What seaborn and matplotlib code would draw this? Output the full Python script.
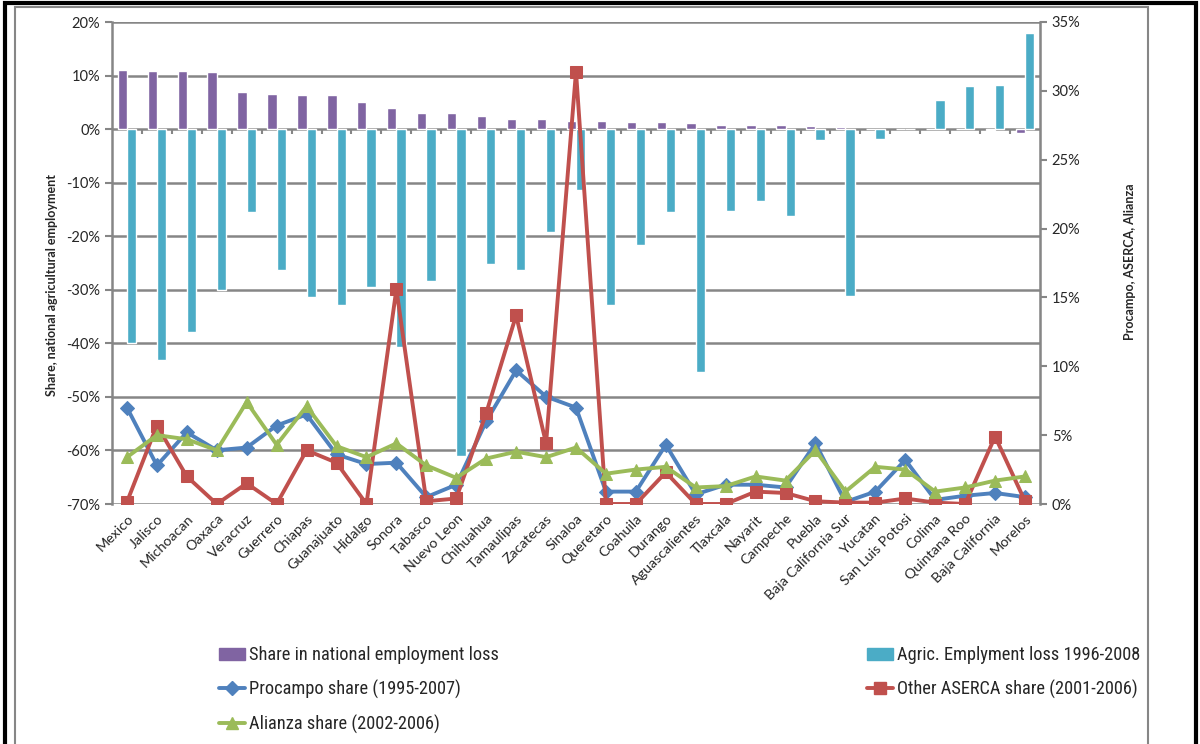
import numpy as np
import pandas as pd
import matplotlib
matplotlib.use("Agg")
import matplotlib.pyplot as plt
from matplotlib import font_manager
from matplotlib.patches import Rectangle, Patch
from matplotlib.lines import Line2D
import seaborn as sns

states = ["Mexico", "Jalisco", "Michoacan", "Oaxaca", "Veracruz", "Guerrero",
          "Chiapas", "Guanajuato", "Hidalgo", "Sonora", "Tabasco", "Nuevo Leon",
          "Chihuahua", "Tamaulipas", "Zacatecas", "Sinaloa", "Queretaro",
          "Coahuila", "Durango", "Aguascalientes", "Tlaxcala", "Nayarit",
          "Campeche", "Puebla", "Baja California Sur", "Yucatan",
          "San Luis Potosi", "Colima", "Quintana Roo", "Baja California", "Morelos"]

# left axis (%)
national_share = [11.1, 10.9, 10.9, 10.6, 7.0, 6.6, 6.3, 6.3, 5.0, 4.0, 3.1, 3.1,
                  2.5, 1.8, 1.8, 1.6, 1.6, 1.4, 1.25, 1.2, 0.7, 0.7, 0.7, 0.6,
                  0.4, 0.0, 0.0, 0.0, 0.0, -0.2, -0.7]
agric_loss = [-40.0, -43.2, -37.8, -30.0, -15.4, -26.4, -31.4, -32.9, -29.4,
              -40.6, -28.3, -61.0, -25.2, -26.4, -19.3, -11.3, -32.9, -21.6,
              -15.4, -45.4, -15.2, -13.5, -16.3, -2.0, -31.2, -1.9, 0.0, 5.5,
              8.1, 8.3, 18.0]

# right axis (%)
procampo = [7.0, 2.8, 5.2, 3.9, 4.1, 5.7, 6.5, 3.6, 2.9, 3.0, 0.5, 1.4, 6.0, 9.7,
            7.8, 7.0, 0.9, 0.9, 4.3, 0.7, 1.4, 1.4, 1.2, 4.4, 0.15, 0.9, 3.2,
            0.3, 0.6, 0.8, 0.5]
aserca = [0.15, 5.7, 2.0, 0.0, 1.5, 0.0, 3.9, 3.0, 0.0, 15.6, 0.2, 0.4, 6.6,
          13.7, 4.4, 31.4, 0.0, 0.0, 2.3, 0.0, 0.0, 0.9, 0.8, 0.2, 0.1, 0.1,
          0.4, 0.1, 0.0, 4.9, 0.2]
alianza = [3.4, 5.0, 4.7, 3.9, 7.4, 4.3, 7.1, 4.2, 3.4, 4.4, 2.8, 1.9, 3.3, 3.8,
           3.4, 4.1, 2.2, 2.5, 2.7, 1.2, 1.3, 2.0, 1.7, 3.9, 0.9, 2.7, 2.5, 0.9,
           1.2, 1.7, 2.0]

bar_names = ["Share in national employment loss", "Agric. Emplyment loss 1996-2008"]
line_names = ["Procampo share (1995-2007)", "Other ASERCA share (2001-2006)",
              "Alianza share (2002-2006)"]

purple, teal = "#8064A2", "#4BACC6"
blue, red, green = "#4F81BD", "#C0504D", "#9BBB59"
grey = "#868686"

bars = pd.DataFrame({
    "state": states * 2,
    "value": national_share + agric_loss,
    "series": [bar_names[0]] * len(states) + [bar_names[1]] * len(states),
})

sns.set_style("white")
plt.rcParams["font.family"] = ["Lato", "DejaVu Sans"]

# pick a condensed face for the legend if there is one
installed = {f.name for f in font_manager.fontManager.ttflist}
narrow = {"family": ["Lato", "DejaVu Sans"], "size": 11}
for name in ["Liberation Sans Narrow", "DejaVu Sans Condensed", "Roboto Condensed"]:
    if name in installed:
        narrow = {"family": [name, "DejaVu Sans"], "size": 13.2}
        break

fig = plt.figure(figsize=(12, 7.44), dpi=100)
ax = fig.add_axes([112 / 1200, 1 - 504 / 744, (1040 - 112) / 1200, (504 - 22) / 744])

sns.barplot(data=bars, x="state", y="value", hue="series", order=states,
            hue_order=bar_names, palette=[purple, teal], width=0.62, gap=0,
            saturation=1, legend=False, ax=ax)

ax.set_ylim(-70, 20)
ax.set_yticks(np.arange(-70, 21, 10))
ax.set_yticklabels([f"{v}%" for v in range(-70, 21, 10)], fontsize=10.5)
ax.set_xlim(-0.5, len(states) - 0.5)
ax.yaxis.grid(True, color=grey, lw=1.8)
ax.set_axisbelow(True)
ax.set_xlabel("")
ax.set_ylabel("")
ax.set_xticks(range(len(states)))
ax.set_xticklabels(states, rotation=45, ha="right", rotation_mode="anchor",
                   fontsize=10.3)
ax.tick_params(axis="x", length=0, pad=6)
ax.tick_params(axis="y", length=5, width=1.5, color=grey, direction="out", left=True)
for s in ["top", "bottom"]:
    ax.spines[s].set_visible(False)
ax.spines["left"].set_color(grey)
ax.spines["left"].set_linewidth(1.8)
# category boundary tick marks on the 0% line
ax.vlines(np.arange(0.5, len(states) - 0.5, 1), -1.0, 0, color=grey, lw=1.5)

ax2 = ax.twinx()
x = np.arange(len(states))
for vals, col, mk, ms in [(procampo, blue, "D", 7), (aserca, red, "s", 8.5),
                          (alianza, green, "^", 9)]:
    sns.lineplot(x=x, y=vals, color=col, lw=2.8, marker=mk, markersize=ms,
                 markeredgecolor=col, ax=ax2)
ax2.set_ylim(0, 35)
ax2.set_yticks(np.arange(0, 36, 5))
ax2.set_yticklabels([f"{v}%" for v in range(0, 36, 5)], fontsize=10.5)
ax2.tick_params(axis="y", length=5, width=1.5, color=grey, direction="out", right=True)
ax2.set_xlim(-0.5, len(states) - 0.5)
for s in ["top", "bottom", "left"]:
    ax2.spines[s].set_visible(False)
ax2.spines["right"].set_color(grey)
ax2.spines["right"].set_linewidth(1.8)
ax2.set_ylabel("")

fig.text(52 / 1200, 1 - 285 / 744, "Share, national agricultural employment",
         rotation=90, ha="center", va="center", fontsize=9, fontweight="bold")
fig.text(1130 / 1200, 1 - 262 / 744, "Procampo, ASERCA, Alianza",
         rotation=90, ha="center", va="center", fontsize=9, fontweight="bold")

# legends
h_share = Patch(color=purple)
h_agric = Patch(color=teal)
h_proc = Line2D([], [], color=blue, lw=2.8, marker="D", markersize=7)
h_aser = Line2D([], [], color=red, lw=2.8, marker="s", markersize=8.5)
h_ali = Line2D([], [], color=green, lw=2.8, marker="^", markersize=9)
common = dict(loc="upper left", frameon=False, prop=narrow, handlelength=1.4,
              handletextpad=0.2, labelspacing=0.85, borderaxespad=0)
fig.legend([h_share, h_proc, h_ali], [bar_names[0], line_names[0], line_names[2]],
           bbox_to_anchor=(212 / 1200, 1 - 639 / 744), **common)
fig.legend([h_agric, h_aser], [bar_names[1], line_names[1]],
           bbox_to_anchor=(860 / 1200, 1 - 639 / 744), **common)

# chart area and outer frame
fig.patches.append(Rectangle((15 / 1200, -0.05), (1148 - 15) / 1200, 1.05 - 7 / 744,
                             transform=fig.transFigure, fill=False, ec=grey, lw=1.5))
fig.patches.append(Rectangle((5 / 1200, -0.05), (1196 - 5) / 1200, 1.05 - 3 / 744,
                             transform=fig.transFigure, fill=False, ec="black", lw=3))

fig.savefig("out.png", dpi=100)
